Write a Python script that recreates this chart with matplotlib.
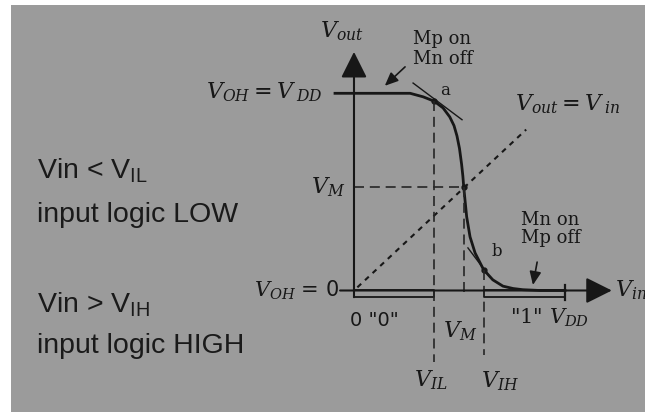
import matplotlib
matplotlib.use("Agg")
import matplotlib.pyplot as plt

plt.rcParams['mathtext.fontset'] = 'dejavuserif'

# niveaux de l'inverseur (V)
VDD = 5.0
V_IL = 1.9
V_M = 2.6
V_IH = 3.07

# caracteristique de transfert Vout = f(Vin)
vin = [-0.45, 0.62, 1.33, 1.64, 1.9, 2.11, 2.27, 2.37, 2.44, 2.5, 2.55, 2.58, 2.6,
       2.63, 2.67, 2.75, 2.87, 3.07, 3.29, 3.53, 3.77, 4.0, 4.41, 5.0]
vout = [5.0, 5.0, 5.0, 4.91, 4.8, 4.63, 4.4, 4.18, 3.92, 3.6, 3.2, 2.9, 2.63,
        2.3, 1.87, 1.36, 0.95, 0.53, 0.27, 0.11, 0.05, 0.02, 0.0, 0.0]

# tangentes aux points a et b
tan_a_x = [1.40, 2.56]
tan_a_y = [5.26, 4.33]
tan_b_x = [2.70, 3.22]
tan_b_y = [1.08, 0.34]

# droite Vout = Vin
diag = [0.08, 4.08]

ink = '#171717'
gris = '#9b9b9b'

fig = plt.figure(figsize=(6.45, 4.12), dpi=100, facecolor='white')
ax = fig.add_axes([11/645, 0, 634/645, 407/412])
ax.set_facecolor(gris)
ax.set_xlim(-8.128, 6.896)
ax.set_ylim(-3.081, 7.239)
ax.set_xticks([])
ax.set_yticks([])
for s in ax.spines.values():
    s.set_visible(False)

# axes avec fleches
fleche = dict(arrowstyle='-|>,head_length=1.6,head_width=0.8', mutation_scale=10,
              color=ink, lw=1.5, shrinkA=0, shrinkB=0)
ax.annotate('', xy=(0, 6.05), xytext=(0, -0.17), arrowprops=fleche)
ax.annotate('', xy=(6.11, 0), xytext=(-0.33, 0), arrowprops=fleche)

# zones logiques "0" et "1"
bas = -0.165
ax.plot([0, V_IL, V_IL, 0, 0], [0, 0, bas, bas, 0], color=ink, lw=1.3)
ax.plot([V_IH, VDD, VDD, V_IH, V_IH], [0, 0, bas, bas, 0], color=ink, lw=1.3)
ax.plot([VDD, VDD], [0.14, -0.24], color=ink, lw=1.6)

# courbe de transfert
ax.plot(vin, vout, color=ink, lw=2.0, solid_joinstyle='round')
ax.plot(tan_a_x, tan_a_y, color=ink, lw=1.0)
ax.plot(tan_b_x, tan_b_y, color=ink, lw=1.0)
ax.plot([V_IL], [4.8], 'o', color=ink, ms=3.5)
ax.plot([V_M], [2.63], 'o', color=ink, ms=3.5)
ax.plot([V_IH], [0.53], 'o', color=ink, ms=3.5)

# pointilles
ax.plot(diag, diag, color=ink, lw=1.5, linestyle=(0, (2.5, 2.5)))
tirets = dict(color='#262626', lw=1.2, linestyle=(0, (6, 3.5)))
ax.plot([V_IL, V_IL], [4.8, -1.81], **tirets)
ax.plot([V_IH, V_IH], [0.53, -1.64], **tirets)
ax.plot([V_M, V_M], [2.63, -0.17], **tirets)
ax.plot([0, V_M], [2.63, 2.63], **tirets)

# fleches Mp / Mn
petite = dict(arrowstyle='-|>,head_length=0.8,head_width=0.35', mutation_scale=10,
              color=ink, lw=1.2, shrinkA=0, shrinkB=0)
ax.annotate('', xy=(0.73, 5.19), xytext=(1.21, 5.67), arrowprops=petite)
ax.annotate('', xy=(4.24, 0.14), xytext=(4.34, 0.72), arrowprops=petite)

# textes du diagramme
fs = 16
ax.text(-0.28, 6.58, r'$V_{out}$', fontsize=fs, color=ink, ha='center', va='center')
ax.text(-0.73, 5.03, r'$V_{OH}=V_{\;DD}$', fontsize=fs, color=ink, ha='right', va='center')
ax.text(-0.21, 2.63, r'$V_M$', fontsize=fs, color=ink, ha='right', va='center')
ax.text(-0.36, 0.0, r'$V_{OH}$ = 0', fontsize=15, color=ink, ha='right', va='center',
        family='DejaVu Sans')
ax.text(-0.09, -0.75, '0 "0"', fontsize=14, color=ink, ha='left', va='center',
        family='DejaVu Sans')
ax.text(2.51, -1.03, r'$V_M$', fontsize=fs, color=ink, ha='center', va='center')
ax.text(1.82, -2.27, r'$V_{IL}$', fontsize=fs, color=ink, ha='center', va='center')
ax.text(3.46, -2.30, r'$V_{IH}$', fontsize=fs, color=ink, ha='center', va='center')
ax.text(3.70, -0.70, r'"1" $V_{DD}$', fontsize=15, color=ink, ha='left', va='center',
        family='DejaVu Serif')
ax.text(6.19, 0.0, r'$V_{in}$', fontsize=fs, color=ink, ha='left', va='center')
ax.text(3.82, 4.73, r'$V_{out}=V_{\;in}$', fontsize=fs, color=ink, ha='left', va='center')
ax.text(2.16, 5.08, 'a', fontsize=12, color=ink, ha='center', va='center', family='DejaVu Serif')
ax.text(3.39, 0.98, 'b', fontsize=12, color=ink, ha='center', va='center', family='DejaVu Serif')
ax.text(1.40, 6.38, 'Mp on', fontsize=13, color=ink, ha='left', va='center', family='DejaVu Serif')
ax.text(1.40, 5.87, 'Mn off', fontsize=13, color=ink, ha='left', va='center', family='DejaVu Serif')
ax.text(3.95, 1.79, 'Mn on', fontsize=13, color=ink, ha='left', va='center', family='DejaVu Serif')
ax.text(3.95, 1.33, 'Mp off', fontsize=13, color=ink, ha='left', va='center', family='DejaVu Serif')

# conditions d'entree a gauche
gauche = dict(fontsize=20.5, color='#1a1a1a', ha='left', va='baseline', family='Liberation Sans')
ax.text(-7.51, 2.85, r'Vin < V$_\mathregular{IL}$', **gauche)
ax.text(-7.51, 1.74, 'input logic LOW', **gauche)
ax.text(-7.51, -0.57, r'Vin > V$_\mathregular{IH}$', **gauche)
ax.text(-7.51, -1.58, 'input logic HIGH', **gauche)

fig.savefig('out.png', dpi=100, facecolor='white')
